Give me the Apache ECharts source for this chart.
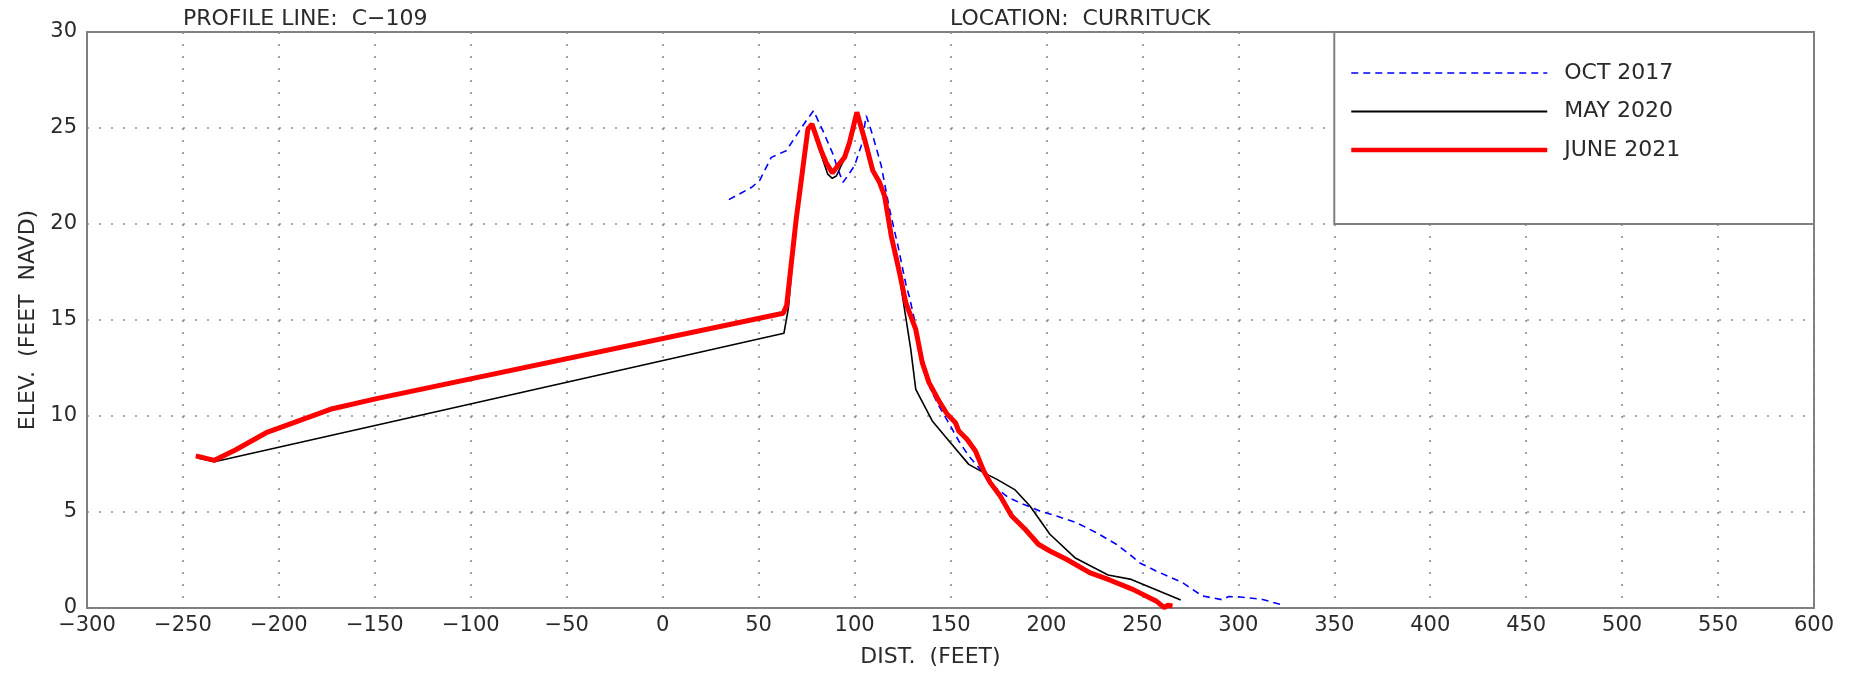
<!DOCTYPE html>
<html>
<head>
<meta charset="utf-8">
<script src="https://cdn.jsdelivr.net/npm/echarts@6/dist/echarts.min.js"></script>
<style>
html,body{margin:0;padding:0;background:#fff;}
#chart{width:1855px;height:674px;}
</style>
</head>
<body>
<div id="chart"></div>
<script>
// ---- data (distance ft, elevation ft NAVD) ----
var seriesNames = ['OCT 2017', 'MAY 2020', 'JUNE 2021'];
var oct2017 = [
  [34.5,21.27],[46.2,21.9],[50.5,22.26],[56.6,23.47],[64.4,23.82],[69.6,24.6],[74.8,25.38],
  [78.6,25.9],[83.5,24.86],[88.7,23.65],[91.3,22.86],[94.0,22.17],[96.5,22.52],[100.0,23.04],
  [103.5,24.08],[106.1,25.64],[109.5,24.6],[113.9,23.04],[118.2,20.78],[122.6,18.87],
  [126.9,16.79],[128.6,16.2],[132.7,14.34],[134.5,12.95],[139.6,11.39],[144.0,10.52],
  [150.0,9.48],[154.3,8.7],[159.5,7.92],[165.5,7.22],[172.5,6.35],[180.2,5.75],[188.0,5.4],
  [196.6,5.05],[205.3,4.79],[215.6,4.45],[226.0,3.92],[236.4,3.32],[243.3,2.8],[248.4,2.36],
  [257.1,1.93],[270.9,1.32],[281.2,0.63],[291.6,0.43],[295.0,0.6],[300.8,0.57],[312.1,0.46],
  [323.5,0.14]
];
var may2020 = [
  [-242.5,7.82],[-233.6,7.62],[63.2,14.31],[65.5,15.6],[69.6,20.2],[75.7,24.9],[77.8,25.1],
  [82.6,23.6],[86.0,22.6],[88.4,22.38],[90.5,22.5],[94.8,23.4],[97.4,24.2],[101.2,25.7],
  [105.2,24.3],[109.5,22.7],[113.0,22.1],[115.6,21.4],[119.0,19.3],[123.2,17.38],
  [129.3,13.47],[131.9,11.39],[140.5,9.74],[150.0,8.61],[159.5,7.48],[167.3,7.05],
  [174.2,6.7],[183.7,6.15],[191.4,5.31],[201.8,3.84],[214.8,2.62],[232.1,1.72],
  [244.2,1.49],[270.0,0.42]
];
var june2021 = [
  [-243.3,7.92],[-233.6,7.69],[-222.7,8.23],[-206.6,9.13],[-173.2,10.35],[-148.5,10.92],
  [62.8,15.35],[64.6,15.75],[69.6,20.26],[75.7,24.95],[77.8,25.2],[82.6,23.82],[85.2,23.2],
  [88.4,22.66],[91.8,23.1],[94.8,23.47],[97.4,24.25],[101.2,25.82],[105.2,24.43],
  [109.5,22.78],[113.0,22.17],[115.6,21.48],[119.1,19.39],[123.4,17.48],[126.7,15.9],
  [131.9,14.51],[135.3,12.78],[138.8,11.74],[144.0,10.78],[148.3,10.09],[152.6,9.65],
  [154.3,9.22],[158.6,8.79],[163.0,8.18],[167.3,7.14],[170.7,6.53],[175.9,5.83],
  [181.9,4.79],[188.9,4.1],[195.8,3.32],[201.8,2.97],[210.4,2.54],[222.5,1.84],
  [232.9,1.46],[245.0,0.97],[257.1,0.37],[261.4,0.02],[263.1,0.14],[265.7,0.1]
];
var xTicks = {min: -300, max: 600, step: 50};
var yTicks = {min: 0, max: 30, step: 5};
var headerLeft = 'PROFILE LINE:  C\u2212109';
var headerRight = 'LOCATION:  CURRITUCK';
var xName = 'DIST.  (FEET)';
var yName = 'ELEV.  (FEET  NAVD)';

var FONT = 'DejaVu Sans';
var TXT = '#2a2a2a';
var FRAME = '#808080';

var chart = echarts.init(document.getElementById('chart'), null, {renderer: 'canvas'});
function fmt(v){ return String(v).replace('-', '\u2212'); }
var gridDots = {type: [2, 10], color: '#8a8a8a', width: 1.6};

var option = {
  backgroundColor: '#fff',
  animation: false,
  grid: {left: 87, right: 41, top: 32, bottom: 66, show: true, borderColor: FRAME, borderWidth: 2, backgroundColor: 'transparent'},
  xAxis: {
    type: 'value', min: xTicks.min, max: xTicks.max, interval: xTicks.step,
    axisLine: {show: true, onZero: false, lineStyle: {color: FRAME, width: 2}},
    axisTick: {show: false},
    splitLine: {show: true, lineStyle: gridDots},
    axisLabel: {fontFamily: FONT, fontSize: 21, color: TXT, margin: 7, formatter: fmt},
    name: xName, nameLocation: 'middle', nameGap: 38,
    nameTextStyle: {fontFamily: FONT, fontSize: 22, color: TXT, padding: [0, 40, 0, 0]}
  },
  yAxis: {
    type: 'value', min: yTicks.min, max: yTicks.max, interval: yTicks.step,
    axisLine: {show: true, onZero: false, lineStyle: {color: FRAME, width: 2}},
    axisTick: {show: false},
    splitLine: {show: true, lineStyle: gridDots},
    axisLabel: {fontFamily: FONT, fontSize: 21, color: TXT, margin: 10, padding: [0, 0, 12, 0], formatter: fmt},
    name: yName, nameLocation: 'middle', nameGap: 47, nameRotate: 90,
    nameTextStyle: {fontFamily: FONT, fontSize: 22, color: TXT}
  },
  legend: {
    data: [
      {name: seriesNames[0], itemStyle: {opacity: 0}, lineStyle: {width: 1.6}},
      {name: seriesNames[1], itemStyle: {opacity: 0}, lineStyle: {width: 2}},
      {name: seriesNames[2], itemStyle: {opacity: 0}, lineStyle: {width: 4.5}}
    ],
    orient: 'vertical', left: 1344, top: 57,
    itemWidth: 196, itemHeight: 16, itemGap: 16.5,
    itemStyle: {opacity: 0},
    textStyle: {fontFamily: FONT, fontSize: 22, lineHeight: 16, color: TXT, padding: [0, 0, 0, 12]},
    selectedMode: false
  },
  graphic: [
    {type: 'text', left: 183, top: 8, style: {text: headerLeft, fontFamily: FONT, fontSize: 22, fill: TXT}},
    {type: 'text', left: 950, top: 8, style: {text: headerRight, fontFamily: FONT, fontSize: 22, fill: TXT}}
  ],
  series: [
    {
      name: seriesNames[0], type: 'line', data: oct2017, symbol: 'none', z: 3,
      lineStyle: {color: '#0000ff', width: 1.6, type: [7, 5]},
      itemStyle: {color: '#0000ff'},
      markArea: {
        silent: true,
        itemStyle: {color: '#ffffff', borderColor: FRAME, borderWidth: 2},
        data: [[{coord: [350, 20]}, {coord: [600, 30]}]]
      }
    },
    {
      name: seriesNames[1], type: 'line', data: may2020, symbol: 'none', z: 4,
      lineStyle: {color: '#000000', width: 1.6},
      itemStyle: {color: '#000000'}
    },
    {
      name: seriesNames[2], type: 'line', data: june2021, symbol: 'none', z: 5,
      lineStyle: {color: '#ff0000', width: 5},
      itemStyle: {color: '#ff0000'}
    }
  ]
};
chart.setOption(option);
</script>
</body>
</html>
